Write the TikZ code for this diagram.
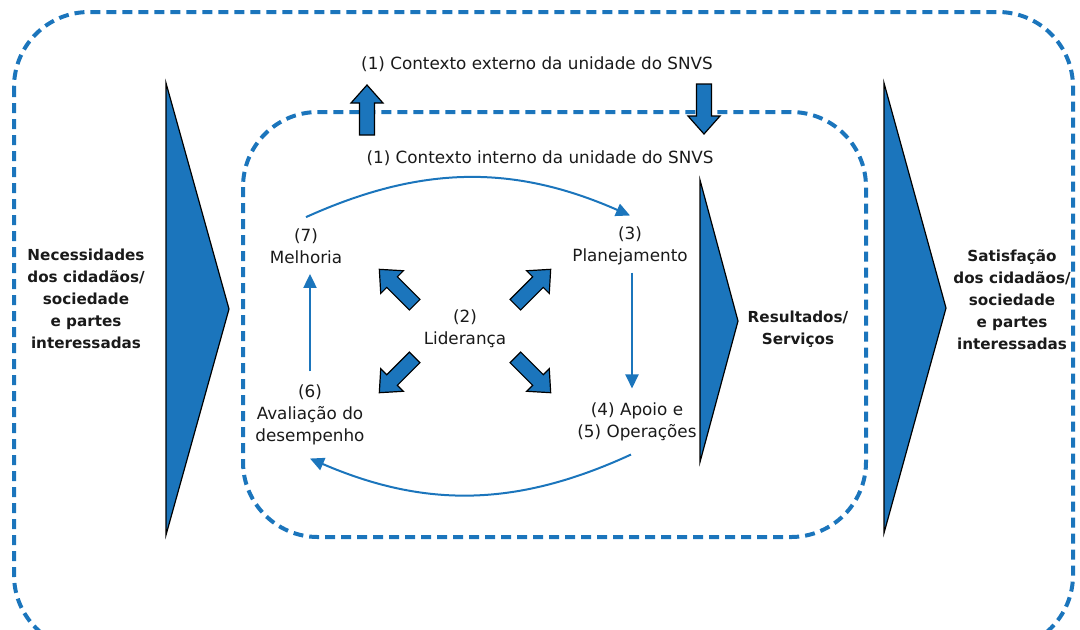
\documentclass[tikz,border=0pt]{standalone}
\usepackage{fontspec}
\setmainfont{DejaVu Sans}
\usetikzlibrary{arrows.meta,positioning}

\definecolor{azulsnvs}{HTML}{1B75BC}
\definecolor{textosnvs}{HTML}{1A1A1A}

\newcommand{\setabloco}[2]{%
  \draw[blocoseta, shift={#1}, rotate=#2] (-25,-7.5) -- (7,-7.5) -- (7,-16) -- (25,0)
    -- (7,16) -- (7,7.5) -- (-25,7.5) -- cycle;}

\begin{document}
\begin{tikzpicture}[x=0.5pt, y=-0.5pt]
        \tikzstyle{tracejado}=[draw=azulsnvs, line width=2pt, dash pattern=on 5pt off 3pt, rounded corners=37.5pt];
        \tikzstyle{triangulo}=[fill=azulsnvs, draw=black, line width=0.6pt, line join=miter];
        \tikzstyle{blocoseta}=[fill=azulsnvs, draw=black, line width=0.6pt];
        \tikzstyle{conector}=[draw=azulsnvs, line width=1pt, -{Triangle[length=7pt, width=6.5pt]}];
        \tikzstyle{rotulo}=[align=center, inner sep=0pt, text=textosnvs, font=\fontsize{8.4}{11}\selectfont];
        \tikzstyle{negrito}=[rotulo, font=\fontsize{7.6}{11}\selectfont\bfseries];

        \useasboundingbox (0,0) rectangle (1080,629);
        \clip (0,0) rectangle (1080,629);

        % contextos externo e interno
        \draw[tracejado] (14,12) rectangle (1073,650);
        \draw[tracejado] (243,112) rectangle (866,537);

        % grandes triangulos
        \foreach \xa/\ya/\yb/\xb in {166/83/535/229, 700/180/462/738, 884/83/533/946}{
          \draw[triangulo] (\xa,\ya) -- (\xb,{(\ya+\yb)/2}) -- (\xa,\yb) -- cycle;
        }

        % setas entre os contextos
        \setabloco{(367,110)}{90}
        \setabloco{(704,109)}{-90}

        % setas da lideranca
        \foreach \ang/\dx/\dy in {45/68/-44, 135/-68/-44, 225/-68/44, 315/68/44}{
          \setabloco{({465+\dx},{331+\dy})}{\ang}
        }

        \node[rotulo] (externo) at (537,64) {(1) Contexto externo da unidade do SNVS};
        \node[rotulo] (interno) at (540,158) {(1) Contexto interno da unidade do SNVS};
        \node[rotulo] (melhoria) at (306,246) {(7)\\Melhoria};
        \node[rotulo] (planejamento) at (630,246) {(3)\\Planejamento};
        \node[rotulo] (lideranca) at (465,329) {(2)\\Liderança};
        \node[rotulo] (avaliacao) at (310,415) {(6)\\Avaliação do\\desempenho};
        \node[rotulo] (apoio) at (637,422) {(4) Apoio e\\(5) Operações};
        \node[negrito] (resultados) at (798,329) {Resultados/\\Serviços};
        \node[negrito] (necessidades) at (86,299) {Necessidades\\dos cidadãos/\\sociedade\\e partes\\interessadas};
        \node[negrito] (satisfacao) at (1012,300) {Satisfação\\dos cidadãos/\\sociedade\\e partes\\interessadas};

        % ciclo
        \draw[conector] ([yshift=5.5pt]melhoria.north) to[bend left=24] ([yshift=5.5pt]planejamento.north);
        \draw[conector] ([xshift=1pt, yshift=-3.5pt]planejamento.south) -- ([xshift=1pt, yshift=7pt]planejamento.south |- apoio.north);
        \draw[conector] ([xshift=-3pt, yshift=-6.5pt]apoio.south) to[bend left=24] ([yshift=-6.5pt]avaliacao.south);
        \draw[conector] ([yshift=6.5pt]avaliacao.north) -- ([yshift=-5pt]avaliacao.north |- melhoria.south);
    \end{tikzpicture}
\end{document}
